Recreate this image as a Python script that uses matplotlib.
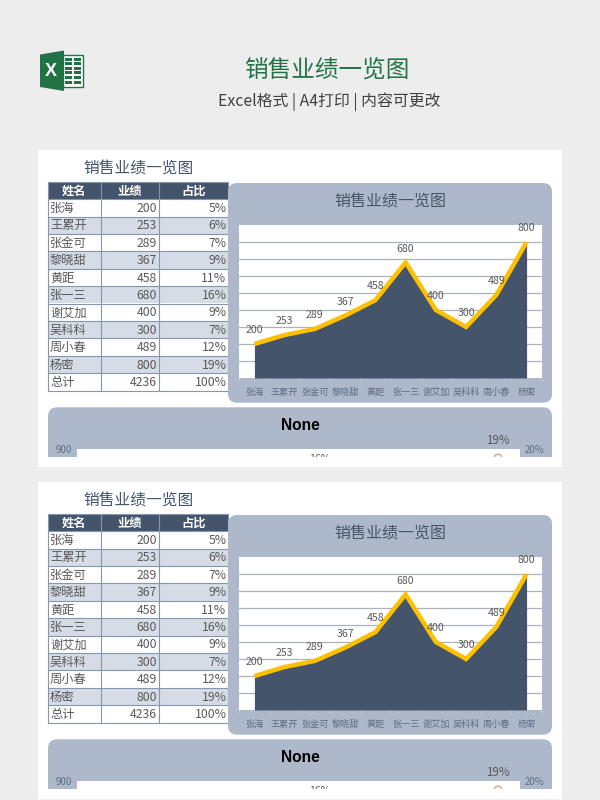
import matplotlib
matplotlib.use('Agg')
import matplotlib.pyplot as plt
from matplotlib.patches import FancyBboxPatch, Rectangle, Polygon, Circle

plt.rcParams['font.family'] = ['Noto Sans CJK SC', 'DejaVu Sans']

# Data
names = ['张海', '王累开', '张金可', '黎晓甜', '黄距', '张一三', '谢艾加', '吴科科', '周小春', '杨密']
sales = [200, 253, 289, 367, 458, 680, 400, 300, 489, 800]
shares = ['5%', '6%', '7%', '9%', '11%', '16%', '9%', '7%', '12%', '19%']
headers = ['姓名', '业绩', '占比']
total_row = ['总计', '4236', '100%']
chart_title = '销售业绩一览图'
y_max = 900
y_grid = [100, 200, 300, 400, 500, 600, 700, 800]

# Colors
bg = '#EDEDED'
dark = '#44546A'
panel = '#ADB9CA'
stripe = '#D6DCE5'
border = '#8497B0'
yellow = '#FFC000'
green = '#217346'
grid_col = '#AEB2BA'
text_col = '#595959'
axis_text = '#5F6E86'

W, H = 600, 800
fig = plt.figure(figsize=(W / 100, H / 100), dpi=100, facecolor=bg)
ax = fig.add_axes([0, 0, 1, 1])
ax.set_xlim(0, W)
ax.set_ylim(H, 0)
ax.axis('off')


def rounded(x0, y0, x1, y1, r, **kw):
    p = FancyBboxPatch((x0 + r, y0 + r), x1 - x0 - 2 * r, y1 - y0 - 2 * r,
                       boxstyle='round,pad=%s,rounding_size=%s' % (r, r), linewidth=0, **kw)
    ax.add_patch(p)
    return p


def draw_icon():
    ax.add_patch(Rectangle((63, 54.5), 19.5, 32, fc='white', ec=green, lw=1))
    for row in range(6):
        for col in range(2):
            ax.add_patch(Rectangle((64.5 + col * 9, 57.5 + row * 4.6), 7.8, 3.2, fc=green, lw=0))
    ax.add_patch(Polygon([(40, 54.5), (64, 50.5), (64, 91), (40, 87)], fc=green, lw=0))
    ax.text(51, 71, 'X', color='white', fontsize=13, fontweight='bold', ha='center', va='center',
            family=['Liberation Sans', 'DejaVu Sans'])


def draw_table(dy):
    col_x = [48, 100.5, 159, 228]
    top = 181.7 + dy
    row_h = 17.4
    base = row_h / 2 + 4.2
    rows = [[n, str(s), p] for n, s, p in zip(names, sales, shares)] + [total_row]
    ax.add_patch(Rectangle((col_x[0], top), col_x[3] - col_x[0], row_h, fc=dark, lw=0))
    for j, h in enumerate(headers):
        ax.text((col_x[j] + col_x[j + 1]) / 2, top + base, h, color='white', fontsize=8.8,
                fontweight='bold', ha='center', va='baseline')
    for i, r in enumerate(rows):
        y = top + row_h * (i + 1)
        fc = stripe if i % 2 == 1 and i < 10 else 'white'
        ax.add_patch(Rectangle((col_x[0], y), col_x[3] - col_x[0], row_h, fc=fc, lw=0))
        ax.text(col_x[0] + 2, y + base, r[0], color=text_col, fontsize=8.8, ha='left', va='baseline')
        ax.text(col_x[2] - 2, y + base, r[1], color=text_col, fontsize=8.8, ha='right', va='baseline')
        ax.text(col_x[3] - 1.5, y + base, r[2], color=text_col, fontsize=8.8, ha='right', va='baseline')
    bottom = top + row_h * (len(rows) + 1)
    for i in range(len(rows) + 2):
        y = top + row_h * i
        ax.plot([col_x[0], col_x[3]], [y, y], color=border, lw=0.8)
    for x in col_x:
        ax.plot([x, x], [top, bottom], color=border, lw=0.8)


def draw_chart(dy):
    rounded(228, 183 + dy, 552, 402.7 + dy, 9, fc=panel, zorder=3)
    ax.text(390, 206 + dy, chart_title, color=dark, fontsize=11.5, ha='center', va='baseline', zorder=4)
    x0, x1, y0, y1 = 239.3, 541.7, 225 + dy, 378 + dy
    c = fig.add_axes([x0 / W, 1 - y1 / H, (x1 - x0) / W, (y1 - y0) / H])
    xs = list(range(len(names)))
    c.set_xlim(-0.5, len(names) - 0.5)
    c.set_ylim(0, y_max)
    c.set_yticks(y_grid)
    c.tick_params(axis='y', length=0, labelleft=False)
    c.grid(axis='y', color=grid_col, lw=0.9)
    c.set_axisbelow(True)
    c.fill_between(xs, sales, 0, color=dark, lw=0, zorder=2)
    c.plot(xs, sales, color=yellow, lw=3.2, solid_joinstyle='miter', solid_capstyle='butt', zorder=3, clip_on=False)
    for x, v, n in zip(xs, sales, names):
        c.annotate(str(v), (x, v), xytext=(0, 10), textcoords='offset points', ha='center', va='center',
                   fontsize=7.6, color=text_col, zorder=4, annotation_clip=False)
        # baseline aligned so the names sit on one line
        c.annotate(n, (x, 0), xytext=(0, -12), textcoords='offset points', ha='center', va='baseline',
                   fontsize=6.6, color=axis_text, annotation_clip=False)
    c.set_xticks([i - 0.5 for i in range(len(names) + 1)])
    c.tick_params(axis='x', length=2, color='#C5CDDA', width=0.6, labelbottom=False)
    c.grid(axis='x', visible=False)
    for s in c.spines.values():
        s.set_visible(False)


def draw_cut_panel(dy):
    # lower chart is cropped by the sheet edge
    clip_y = 457 + dy
    top = 407.3 + dy
    clip = Rectangle((48, top), 504, clip_y - top, transform=ax.transData)
    p = rounded(48, top, 552, clip_y + 20, 9, fc=panel)
    p.set_clip_path(clip)
    w = ax.add_patch(Rectangle((77, 449.3 + dy), 443, 30, fc='white', lw=0))
    w.set_clip_path(clip)
    ax.text(300, 425.5 + dy, 'None', color='black', fontsize=11.2, fontweight='bold', ha='center', va='center',
            family=['Liberation Sans', 'DejaVu Sans'])
    ax.text(63.5, 449.6 + dy, str(y_max), color=axis_text, fontsize=7, ha='center', va='center')
    ax.text(535, 449.6 + dy, '20%', color=axis_text, fontsize=7, ha='center', va='center')
    ax.text(498, 440 + dy, shares[9], color=text_col, fontsize=8.4, ha='center', va='center')
    t = ax.text(320, 459.5 + dy, shares[5], color=text_col, fontsize=7.6, ha='center', va='center')
    t.set_clip_path(clip)
    t.set_clip_on(True)
    ring = ax.add_patch(Circle((498, 458 + dy), 3.8, fc='white', ec='#E3AE84', lw=1.2))
    ring.set_clip_path(clip)


draw_icon()
ax.text(327, 77, chart_title, color=green, fontsize=17, ha='center', va='baseline')
ax.text(329, 106, 'Excel格式 | A4打印 | 内容可更改', color='#404040', fontsize=11.4, ha='center', va='baseline')

ax.add_patch(Rectangle((38, 150), 524, 317, fc='white', lw=0))
ax.add_patch(Rectangle((38, 482), 524, 317, fc='white', lw=0))

for dy in [0, 332]:
    ax.text(138.5, 174 + dy, chart_title, color=dark, fontsize=11.3, ha='center', va='baseline')
    draw_table(dy)
    draw_chart(dy)
    draw_cut_panel(dy)

fig.savefig('out.png', dpi=100, facecolor=bg)
